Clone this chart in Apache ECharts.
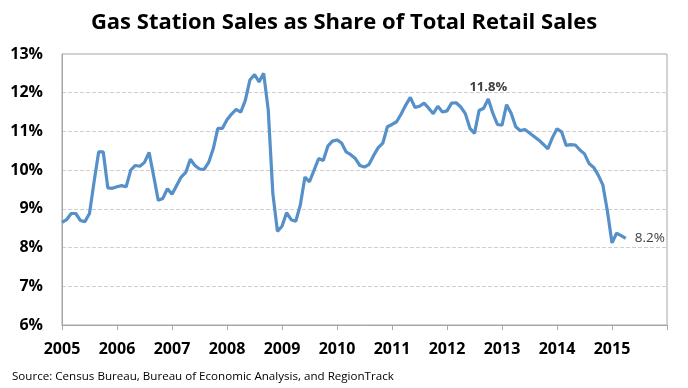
<!DOCTYPE html>
<html>
<head>
<meta charset="utf-8">
<script src="https://cdn.jsdelivr.net/npm/echarts@6/dist/echarts.min.js"></script>
<style>
html,body{margin:0;padding:0;background:#fff;}
#chart{width:688px;height:388px;}
</style>
</head>
<body>
<div id="chart"></div>
<script>
// Monthly share (%) of gas station sales in total retail sales, Jan 2005 - Apr 2015
var startYear = 2005;
var values2005 = [8.65, 8.72, 8.88, 8.88, 8.70, 8.67, 8.88, 9.70, 10.47, 10.47, 9.54, 9.53];
var values2006 = [9.57, 9.60, 9.57, 10.00, 10.12, 10.10, 10.20, 10.46, 9.85, 9.22, 9.27, 9.52];
var values2007 = [9.38, 9.60, 9.82, 9.94, 10.28, 10.12, 10.03, 10.02, 10.20, 10.55, 11.08, 11.08];
var values2008 = [11.30, 11.45, 11.57, 11.50, 11.80, 12.33, 12.47, 12.28, 12.50, 11.55, 9.40, 8.42];
var values2009 = [8.55, 8.90, 8.72, 8.68, 9.10, 9.82, 9.70, 10.00, 10.30, 10.25, 10.62, 10.75];
var values2010 = [10.78, 10.70, 10.47, 10.40, 10.30, 10.12, 10.08, 10.15, 10.38, 10.58, 10.70, 11.12];
var values2011 = [11.18, 11.25, 11.45, 11.68, 11.88, 11.62, 11.65, 11.73, 11.60, 11.46, 11.65, 11.50];
var values2012 = [11.53, 11.73, 11.74, 11.63, 11.46, 11.08, 10.95, 11.54, 11.60, 11.84, 11.47, 11.18];
var values2013 = [11.16, 11.69, 11.47, 11.12, 11.02, 11.05, 10.96, 10.87, 10.78, 10.67, 10.55, 10.84];
var values2014 = [11.07, 10.99, 10.64, 10.66, 10.65, 10.52, 10.42, 10.17, 10.07, 9.87, 9.62, 8.94];
var values2015 = [8.12, 8.37, 8.31, 8.24];

var yearTicks = [2005, 2006, 2007, 2008, 2009, 2010, 2011, 2012, 2013, 2014, 2015];
var calloutIndex = [93, 123];
var calloutText = ['11.8%', '8.2%'];

var allValues = [].concat(values2005, values2006, values2007, values2008, values2009,
  values2010, values2011, values2012, values2013, values2014, values2015);

var seriesData = allValues.map(function (v, i) {
  var item = { value: [startYear + i / 12, v] };
  var k = calloutIndex.indexOf(i);
  if (k === 0) {
    item.label = { show: true, position: 'top', distance: 5, formatter: calloutText[k],
      color: '#404040', fontSize: 13, fontWeight: 'bold', fontFamily: 'Open Sans' };
  } else if (k === 1) {
    item.label = { show: true, position: 'right', distance: 9, formatter: calloutText[k],
      color: '#404040', fontSize: 13.5, fontFamily: 'Open Sans' };
  }
  return item;
});

var chart = echarts.init(document.getElementById('chart'), null, { renderer: 'canvas' });
chart.setOption({
  animation: false,
  backgroundColor: '#ffffff',
  title: {
    text: 'Gas Station Sales as Share of Total Retail Sales',
    left: 'center',
    top: 7,
    textStyle: { fontFamily: 'Open Sans', fontWeight: 'bold', fontSize: 22, color: '#000' }
  },
  graphic: [{
    type: 'text',
    left: 12,
    top: 371,
    style: { text: 'Source: Census Bureau, Bureau of Economic Analysis, and RegionTrack',
      fontFamily: 'Open Sans', fontSize: 11.6, fill: '#000' }
  }],
  grid: {
    left: 62, right: 21, top: 54, bottom: 63,
    show: true, borderColor: '#a6a6a6', borderWidth: 1
  },
  xAxis: {
    type: 'value',
    min: 2005, max: 2016, interval: 1,
    axisLine: { lineStyle: { color: '#a6a6a6' } },
    axisTick: { show: true, length: 5, inside: false, lineStyle: { color: '#a6a6a6' } },
    splitLine: { show: false },
    axisLabel: {
      margin: 16,
      fontFamily: 'Open Sans', fontWeight: 'bold', fontSize: 16, color: '#000',
      formatter: function (v) { return yearTicks.indexOf(Math.round(v)) >= 0 ? String(Math.round(v)) : ''; }
    }
  },
  yAxis: {
    type: 'value',
    min: 6, max: 13, interval: 1,
    axisLine: { show: true, lineStyle: { color: '#a6a6a6' } },
    axisTick: { show: false },
    splitLine: { show: true, lineStyle: { color: '#cfcfcf', type: 'dashed' } },
    axisLabel: {
      margin: 19,
      fontFamily: 'Open Sans', fontWeight: 'bold', fontSize: 16, color: '#000',
      formatter: '{value}%'
    }
  },
  series: [{
    type: 'line',
    data: seriesData,
    showSymbol: true,
    symbol: 'circle',
    symbolSize: 0.1,
    lineStyle: { color: '#5590c8', width: 3.2 },
    itemStyle: { color: '#5590c8' },
    label: { show: false }
  }]
});
</script>
</body>
</html>
